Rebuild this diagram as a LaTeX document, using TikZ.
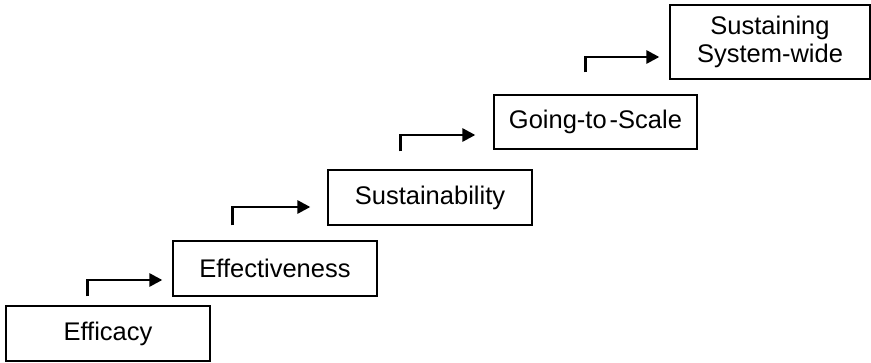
\documentclass[tikz,border=0pt]{standalone}
\usepackage{fontspec}
\setmainfont{Liberation Sans}
\usetikzlibrary{arrows.meta}

\begin{document}
\begin{tikzpicture}[
  x = 1pt, y = 1pt,
  font              = \fontsize{25.5}{27.5}\selectfont,
  every node/.style = {align=center},
  stage/.style = {draw, line width=1.3pt, inner sep=0pt,
                  minimum width=204pt, minimum height=55pt},
  stair/.style = {-{Triangle[length=13pt,width=13pt]}, line width=2.9pt},
]
\useasboundingbox (0,0) rectangle (871,362);

% Stages, bottom left to top right
\node[stage] (efficacy) at (108,28.5)  {Efficacy};
\node[stage] (effect)   at (275,93.5)  {Effectiveness};
\node[stage] (sustain)  at (430,164.5) {Sustainability};
\node[stage, minimum width=203pt, minimum height=54pt]
             (scale)    at (595.5,240) {Going-to\kern3pt-Scale};
\node[stage, minimum width=200pt, minimum height=74pt]
             (system)   at (770,320)   {Sustaining\\System-wide};

% Steps between stages
\draw[stair] ([shift={(82,9)}]efficacy.north west) |- ([shift={(-10,-11.5)}]effect.west);
\draw[stair] ([shift={(60,15)}]effect.north west)  |- ([shift={(-17,-9.5)}]sustain.west);
\draw[stair] ([shift={(73,18)}]sustain.north west) |- ([shift={(-18,-13)}]scale.west);
\draw[stair] ([shift={(92,22)}]scale.north west)   |- ([shift={(-10,-15)}]system.west);

\end{tikzpicture}
\end{document}
